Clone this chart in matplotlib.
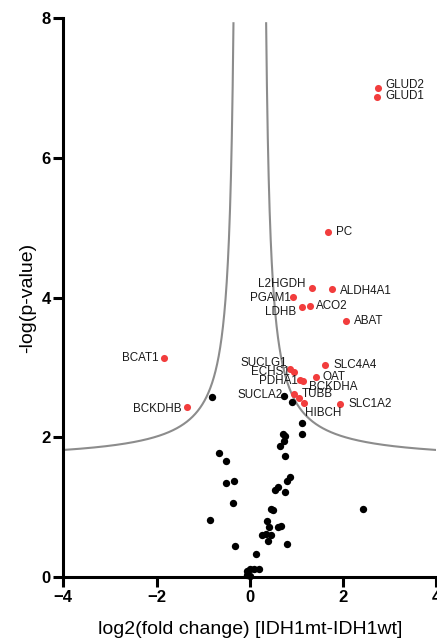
import numpy as np
import matplotlib.pyplot as plt

plt.rcParams['font.family'] = ['Liberation Sans', 'DejaVu Sans']

# significant hits (red, labelled)
hit_genes = ['GLUD2', 'GLUD1', 'PC', 'L2HGDH', 'ALDH4A1', 'PGAM1', 'LDHB', 'ACO2',
             'ABAT', 'BCAT1', 'BCKDHB', 'SLC4A4', 'SUCLG1', 'ECHS1', 'OAT', 'PDHA1',
             'BCKDHA', 'SUCLA2', 'TUBB', 'HIBCH', 'SLC1A2']
hit_fc = [2.76, 2.73, 1.67, 1.34, 1.76, 0.93, 1.12, 1.30,
          2.06, -1.83, -1.35, 1.62, 0.87, 0.94, 1.42, 1.07,
          1.14, 0.94, 1.06, 1.16, 1.94]
hit_p = [7.00, 6.87, 4.94, 4.13, 4.12, 4.01, 3.87, 3.88,
         3.66, 3.14, 2.43, 3.04, 2.98, 2.94, 2.86, 2.82,
         2.80, 2.62, 2.56, 2.49, 2.47]

# non-significant proteins (black)
other_fc = [-0.81, 0.74, 0.91, 1.12, 1.12, 0.71, 0.76, 0.74, 0.64, 0.76,
            -0.67, -0.52, -0.52, -0.34, -0.37, -0.86, -0.31, 0.14, 0.87, 0.80,
            0.53, 0.60, 0.75, 0.46, 0.50, 0.37, 0.41, 0.60, 0.66, 0.27,
            0.34, 0.46, 0.39, 0.79, 2.42, -0.06, 0.01, 0.09, 0.19, -0.06, 0.01]
other_p = [2.57, 2.59, 2.50, 2.21, 2.04, 2.05, 2.02, 1.95, 1.88, 1.73,
           1.77, 1.66, 1.34, 1.37, 1.06, 0.81, 0.45, 0.33, 1.43, 1.37,
           1.25, 1.29, 1.22, 0.97, 0.96, 0.80, 0.72, 0.72, 0.73, 0.60,
           0.62, 0.60, 0.52, 0.47, 0.98, 0.09, 0.11, 0.11, 0.11, 0.03, 0.01]

# label offsets in points (dx, dy) and alignment
label_pos = {
    'GLUD2': (5, 2, 'left'), 'GLUD1': (6, 1, 'left'), 'PC': (6, 0, 'left'),
    'L2HGDH': (-5, 3, 'right'), 'ALDH4A1': (6, -1, 'left'), 'PGAM1': (-2, -1, 'right'),
    'LDHB': (-4, -4, 'right'), 'ACO2': (4, 0, 'left'), 'ABAT': (6, 0, 'left'),
    'BCAT1': (-4, 0, 'right'), 'BCKDHB': (-4, -1, 'right'), 'SLC4A4': (6, 0, 'left'),
    'SUCLG1': (-2, 4, 'right'), 'ECHS1': (-3, 0, 'right'), 'OAT': (5, 0, 'left'),
    'PDHA1': (-1, -1, 'right'), 'BCKDHA': (4, -4, 'left'), 'SUCLA2': (-8, -1, 'right'),
    'TUBB': (2, 3, 'left'), 'HIBCH': (1, -7, 'left'), 'SLC1A2': (6, 0, 'left'),
}

# significance threshold curve
s0, a, b = 0.25, 0.63, 1.65

fig = plt.figure(figsize=(4.37, 6.39), dpi=100)
ax = fig.add_axes([63.3 / 437, 62 / 639, 373 / 437, 559 / 639])

xr = np.linspace(s0 + 0.001, 4, 2000)
yr = b + a / (xr - s0)
mask = yr <= 8
ax.plot(xr[mask], yr[mask], color='#8c8c8c', lw=1.5, zorder=1)
ax.plot(-xr[mask], yr[mask], color='#8c8c8c', lw=1.5, zorder=1)

ax.scatter(other_fc, other_p, s=28, color='black', linewidths=0, zorder=4, clip_on=False)
ax.scatter(hit_fc, hit_p, s=26, color='#f23d3d', linewidths=0, zorder=5, clip_on=False)

for g, x, y in zip(hit_genes, hit_fc, hit_p):
    dx, dy, ha = label_pos[g]
    ax.annotate(g, (x, y), xytext=(dx, dy), textcoords='offset points',
                ha=ha, va='center', fontsize=8.4, color='#1a1a1a', zorder=6)

ax.set_xlim(-4, 4)
ax.set_ylim(0, 8)
ax.set_xticks([-4, -2, 0, 2, 4])
ax.set_yticks([0, 2, 4, 6, 8])
for sp in ['top', 'right']:
    ax.spines[sp].set_visible(False)
for sp in ['left', 'bottom']:
    ax.spines[sp].set_linewidth(2.2)
ax.tick_params(direction='out', length=7, width=2.2, labelsize=12, pad=2)
for lab in ax.get_xticklabels() + ax.get_yticklabels():
    lab.set_fontweight('bold')

ax.set_xlabel('log2(fold change) [IDH1mt-IDH1wt]', fontsize=14, labelpad=12)
ax.set_ylabel('-log(p-value)', fontsize=14, labelpad=4)

fig.savefig('out.png', dpi=100)
